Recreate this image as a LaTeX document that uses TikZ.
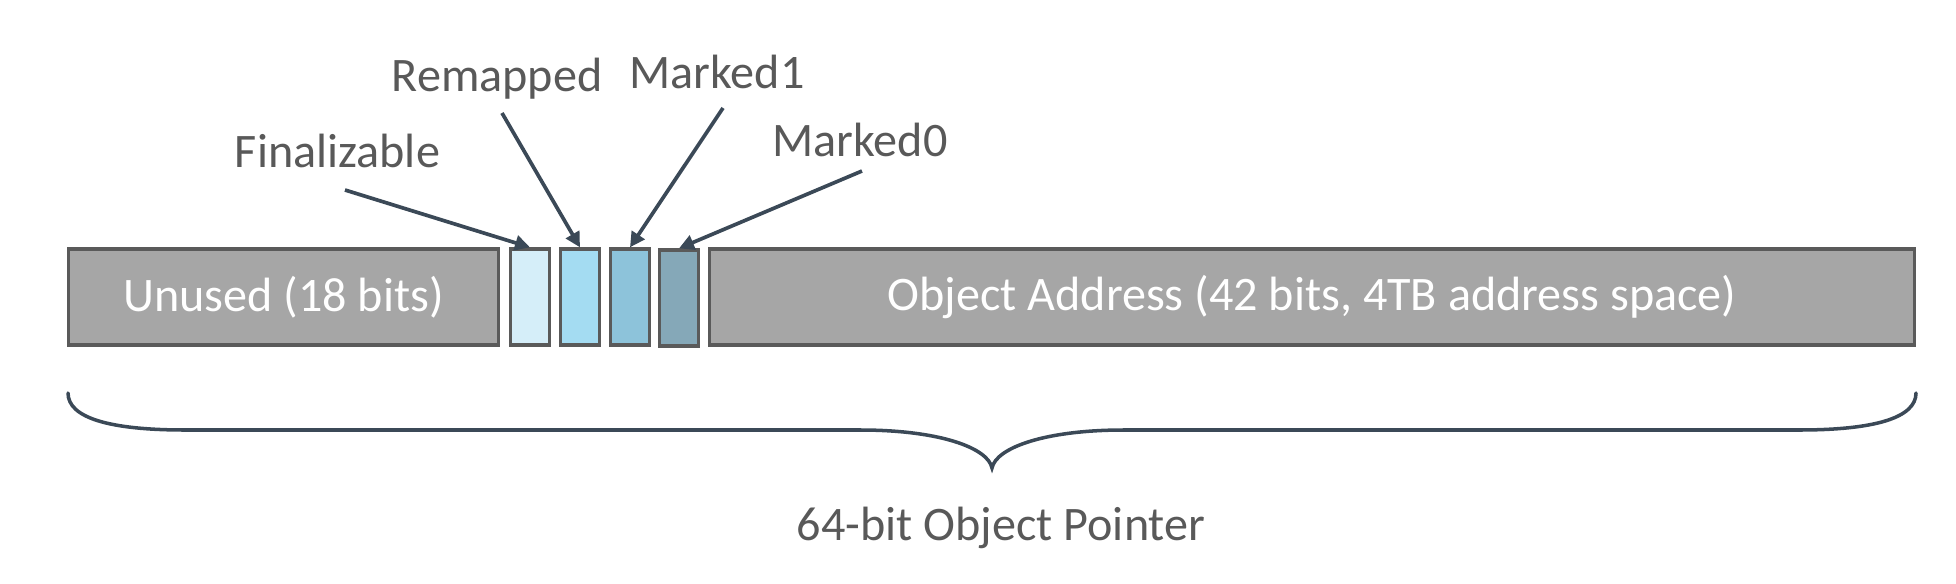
\documentclass[tikz,border=0pt]{standalone}
\usepackage{xcolor}
\usepackage{fontspec}
\setmainfont{Carlito}
\usetikzlibrary{arrows.meta, positioning}

\definecolor{txtgray}{HTML}{595959}
\definecolor{fieldgray}{HTML}{A6A6A6}
\definecolor{bordergray}{HTML}{5A5A5A}
\definecolor{arrowcol}{HTML}{3B4957}
\definecolor{finblue}{HTML}{D5EEF9}
\definecolor{remblue}{HTML}{A4DCF2}
\definecolor{mkoneblue}{HTML}{8DC3DA}
\definecolor{mkzeroblue}{HTML}{85A8B8}

\tikzset{
    field/.style={draw=bordergray, line width=1.9pt, rectangle, fill=fieldgray, minimum height=1.92cm, inner sep=0pt, text=white},
    bitbox/.style={field, minimum width=0.78cm},
    tag/.style={text=txtgray, anchor=base},
    pointer/.style={-{Triangle[length=0.3cm, width=0.3cm]}, draw=arrowcol, line width=2.1pt}
}

\begin{document}
\begin{tikzpicture}[x=0.02cm, y=-0.02cm, font=\fontsize{27.4}{32}\selectfont]
                \useasboundingbox (0,0) rectangle (1956,584);
                \node[field, minimum width=8.6cm] (unused) at (283.5,297) {Unused (18 bits)};
                \node[bitbox, fill=finblue] (fin) at (530,297) {};
                \node[bitbox, fill=remblue] (rem) at (580,297) {};
                \node[bitbox, fill=mkoneblue] (mkone) at (630,297) {};
                \node[bitbox, fill=mkzeroblue] (mkzero) at (679,298) {};
                \node[field, minimum width=24.1cm] (addr) at (1312,297) {Object Address (42 bits, 4TB address space)};

                \node[tag] (finlabel) at (337.5,168) {Finalizable};
                \node[tag] (remlabel) at (497,92) {Remapped};
                \node[tag] (mkonelabel) at (717,89) {Marked1};
                \node[tag] (mkzerolabel) at (860,157) {Marked0};
                \node[tag] (ptrlabel) at (1001,540) {64-bit Object Pointer};

                \coordinate (finstart) at (345,190);
                \coordinate (remstart) at (502,113);
                \coordinate (mkonestart) at (723,108);
                \coordinate (mkzerostart) at (862,171);
                \draw[pointer] (finstart) -- (fin.north);
                \draw[pointer] (remstart) -- (rem.north);
                \draw[pointer] (mkonestart) -- (mkone.north);
                \draw[pointer] (mkzerostart) -- (mkzero.north);

                \coordinate (braceleft) at (68,393);
                \coordinate (braceright) at (1916,393);
                \coordinate (bracetip) at (992,468);
                \draw[arrowcol, line width=2pt, line cap=round]
                    (braceleft) .. controls (68,418) and (110,430) .. (185,430)
                    -- (860,430) .. controls (940,430) and (988,448) .. (bracetip)
                    .. controls (996,448) and (1044,430) .. (1124,430)
                    -- (1799,430) .. controls (1874,430) and (1916,418) .. (braceright);
            \end{tikzpicture}
\end{document}
